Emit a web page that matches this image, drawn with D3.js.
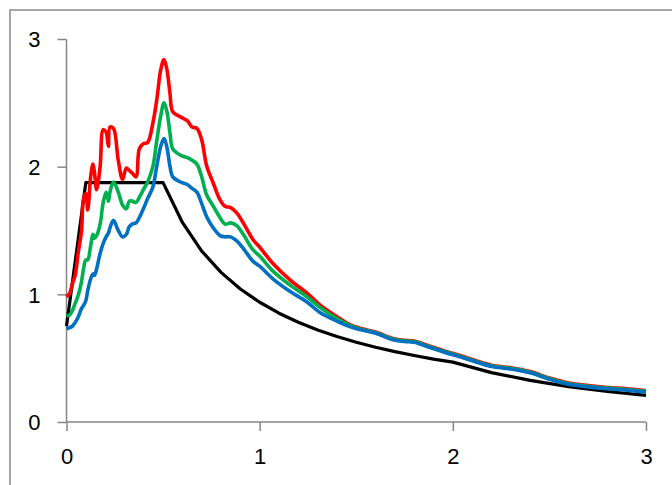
<!DOCTYPE html>
<html>
<head>
<meta charset="utf-8">
<script src="https://cdn.jsdelivr.net/npm/d3@7"></script>
<style>
  body { margin: 0; background: #fff; }
  text { font-family: "Liberation Sans", "DejaVu Sans", sans-serif; }
</style>
</head>
<body>
<div id="chart"></div>
<script>
// periods (s) for the record spectra
const periods = [0, 0.017, 0.03, 0.045, 0.06, 0.078, 0.087, 0.1, 0.11, 0.125, 0.137, 0.145, 0.156, 0.174, 0.19, 0.205, 0.217, 0.225, 0.243, 0.268, 0.29, 0.31, 0.325, 0.34, 0.36, 0.377, 0.398, 0.42, 0.447, 0.467, 0.488, 0.505, 0.52, 0.536, 0.55, 0.59, 0.625, 0.65, 0.675, 0.70, 0.725, 0.76, 0.795, 0.82, 0.85, 0.88, 0.915, 0.965, 1.0, 1.07, 1.16, 1.245, 1.31, 1.4, 1.47, 1.53, 1.6, 1.69, 1.75, 1.8, 1.87, 1.96, 2.05, 2.12, 2.2, 2.3, 2.4, 2.5, 2.6, 2.7, 2.8, 2.9, 3.0]

const redValues = [0.98, 1.01, 1.08, 1.15, 1.32, 1.50, 1.74, 1.79, 1.66, 1.92, 2.02, 1.95, 1.82, 2.0, 2.29, 2.27, 2.16, 2.31, 2.30, 2.05, 1.90, 1.99, 1.97, 1.95, 1.92, 2.14, 2.18, 2.19, 2.34, 2.52, 2.76, 2.84, 2.76, 2.57, 2.43, 2.39, 2.36, 2.31, 2.30, 2.21, 2.01, 1.87, 1.74, 1.69, 1.68, 1.64, 1.56, 1.43, 1.37, 1.24, 1.11, 1.01, 0.92, 0.825, 0.76, 0.73, 0.705, 0.655, 0.64, 0.635, 0.60, 0.555, 0.515, 0.48, 0.445, 0.425, 0.395, 0.345, 0.305, 0.285, 0.27, 0.26, 0.245]

const greenValues = [0.83, 0.84, 0.87, 0.93, 0.99, 1.10, 1.19, 1.27, 1.27, 1.38, 1.47, 1.44, 1.46, 1.55, 1.72, 1.80, 1.73, 1.80, 1.88, 1.80, 1.70, 1.67, 1.73, 1.73, 1.72, 1.76, 1.82, 1.88, 2.0, 2.20, 2.40, 2.50, 2.43, 2.26, 2.14, 2.09, 2.07, 2.05, 2.02, 1.92, 1.78, 1.69, 1.60, 1.55, 1.56, 1.54, 1.47, 1.35, 1.30, 1.18, 1.07, 0.98, 0.90, 0.81, 0.755, 0.725, 0.70, 0.65, 0.635, 0.63, 0.595, 0.55, 0.51, 0.475, 0.44, 0.42, 0.39, 0.34, 0.30, 0.28, 0.265, 0.255, 0.24]

const blueValues = [0.73, 0.74, 0.75, 0.78, 0.82, 0.89, 0.91, 0.95, 1.03, 1.12, 1.16, 1.15, 1.20, 1.32, 1.40, 1.45, 1.48, 1.52, 1.58, 1.50, 1.45, 1.47, 1.53, 1.55, 1.56, 1.60, 1.67, 1.75, 1.84, 2.0, 2.16, 2.22, 2.15, 2.0, 1.92, 1.88, 1.86, 1.83, 1.80, 1.71, 1.61, 1.52, 1.46, 1.45, 1.45, 1.42, 1.36, 1.26, 1.22, 1.12, 1.02, 0.94, 0.86, 0.79, 0.745, 0.72, 0.695, 0.645, 0.63, 0.625, 0.59, 0.545, 0.505, 0.47, 0.435, 0.415, 0.385, 0.335, 0.295, 0.275, 0.26, 0.25, 0.235]

// design spectrum
const designPeriods = [0, 0.1, 0.5, 0.6, 0.7, 0.8, 0.9, 1.0, 1.1, 1.2, 1.3, 1.4, 1.5, 1.6, 1.7, 1.8, 1.9, 2.0, 2.2, 2.4, 2.6, 2.8, 3.0]
const designValues = [0.75, 1.875, 1.875, 1.563, 1.339, 1.172, 1.042, 0.938, 0.852, 0.781, 0.721, 0.670, 0.625, 0.586, 0.551, 0.521, 0.493, 0.469, 0.387, 0.326, 0.277, 0.239, 0.208]

const xTicks = [0, 1, 2, 3]
const yTicks = [0, 1, 2, 3]

const W = 672, H = 485
const margin = { top: 39, right: 26, bottom: 63, left: 66.5 }
const innerW = W - margin.left - margin.right
const innerH = H - margin.top - margin.bottom

const svg = d3.select("#chart")
  .append("svg")
    .attr("width", W)
    .attr("height", H)

// chart frame
svg.append("rect")
  .attr("x", 10).attr("y", 10)
  .attr("width", 700).attr("height", 500)
  .attr("fill", "none")
  .attr("stroke", "#8a8a8a")
  .attr("stroke-width", 1.5)

const g = svg.append("g")
  .attr("transform", "translate(" + margin.left + "," + margin.top + ")")

const x = d3.scaleLinear().domain([0, 3]).range([0, innerW])
const y = d3.scaleLinear().domain([0, 3]).range([innerH, 0])

// axes
const xAxis = g.append("g")
  .attr("transform", "translate(0," + innerH + ")")
  .call(d3.axisBottom(x).tickValues(xTicks).tickSize(9).tickPadding(17).tickFormat(d3.format("d")))
const yAxis = g.append("g")
  .call(d3.axisLeft(y).tickValues(yTicks).tickSize(9).tickPadding(17).tickFormat(d3.format("d")))

;[xAxis, yAxis].forEach(function(a) {
  a.select(".domain").attr("stroke", "#868686").attr("stroke-width", 1.5)
  a.selectAll(".tick line").attr("stroke", "#868686").attr("stroke-width", 1.5)
  a.selectAll(".tick text")
    .attr("fill", "#000")
    .style("font-size", "22px")
    .style("font-family", "'Liberation Sans', sans-serif")
})
// d3 axes draw the domain with outer ticks; remove them
xAxis.select(".domain").attr("d", "M0.5,0H" + innerW)
yAxis.select(".domain").attr("d", "M0,0.5V" + innerH)
yAxis.selectAll(".tick text").attr("dy", "0.36em")

const series = [
  { xs: designPeriods, ys: designValues, color: "#000000", curve: d3.curveLinear, w: 3.2 },
  { xs: periods, ys: redValues, color: "#ff0000", curve: d3.curveCatmullRom.alpha(0.5), w: 3.6 },
  { xs: periods, ys: greenValues, color: "#00b050", curve: d3.curveCatmullRom.alpha(0.5), w: 3.6 },
  { xs: periods, ys: blueValues, color: "#0070c0", curve: d3.curveCatmullRom.alpha(0.5), w: 3.6 }
]

series.forEach(function(s) {
  const pts = s.xs.map(function(t, i) { return [t, s.ys[i]] })
  g.append("path")
    .datum(pts)
    .attr("fill", "none")
    .attr("stroke", s.color)
    .attr("stroke-width", s.w)
    .attr("stroke-linejoin", "round")
    .attr("d", d3.line()
      .curve(s.curve)
      .x(function(d) { return x(d[0]) })
      .y(function(d) { return y(d[1]) }))
})
</script>
</body>
</html>
